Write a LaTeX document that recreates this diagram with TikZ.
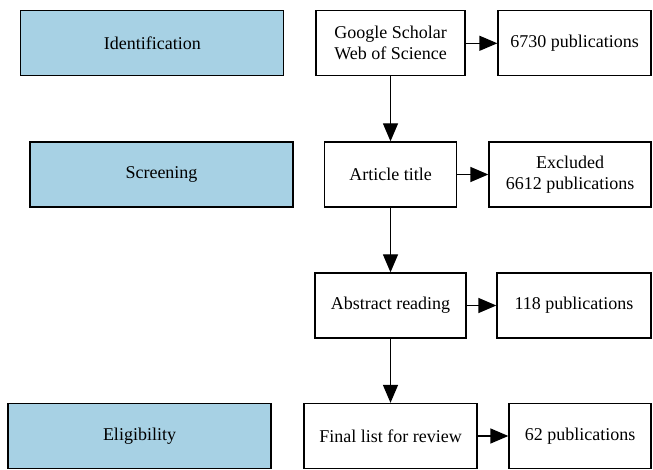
\documentclass[tikz,border=0pt]{standalone}
\usepackage{fontspec}
\setmainfont{Liberation Serif}
\usetikzlibrary{arrows.meta}
\definecolor{azul}{RGB}{167,209,228}

\begin{document}
\begin{tikzpicture}[x=1pt,y=-1pt,
    caja/.style={draw=black,line width=1.3pt,inner sep=0pt,align=center,
        minimum height=65pt,font=\fontsize{18}{21}\selectfont},
    fase/.style={caja,fill=azul,minimum width=263pt},
    flecha/.style={line width=1.3pt,-{Triangle[length=18pt,width=15pt]}}]
\useasboundingbox (0,0) rectangle (653,470);
    %Fases
    \foreach \nombre/\x/\y/\texto in {ident/152.3/43.3/Identification,
        screen/161.5/174.5/Screening,elig/139.5/436/Eligibility}{
        \node[fase] (\nombre) at (\x,\y) {\texto};
    }

    %Pasos
    \node[caja,minimum width=149pt] (google) at (390.5,43.3) {Google Scholar\\Web of Science};
    \node[caja,minimum width=132pt] (article) at (390.5,174.5) {Article title};
    \node[caja,minimum width=151pt] (abstract) at (390.5,305.5) {Abstract reading};
    \node[caja,minimum width=173pt] (final) at (390.5,436) {Final list for review};

    %Resultados
    \node[caja,minimum width=153pt] (n6730) at (574.5,43.3) {6730 publications};
    \node[caja,minimum width=162pt] (excl) at (570,174.5) {Excluded\\6612 publications};
    \node[caja,minimum width=154pt] (n118) at (574,305.5) {118 publications};
    \node[caja,minimum width=142pt] (n62) at (580,436) {62 publications};

    %Flechas
    \foreach \a/\b in {google/article,article/abstract,abstract/final,
        google/n6730,article/excl,abstract/n118,final/n62}{
        \draw[flecha] (\a) -- (\b);
    }
\end{tikzpicture}
\end{document}
